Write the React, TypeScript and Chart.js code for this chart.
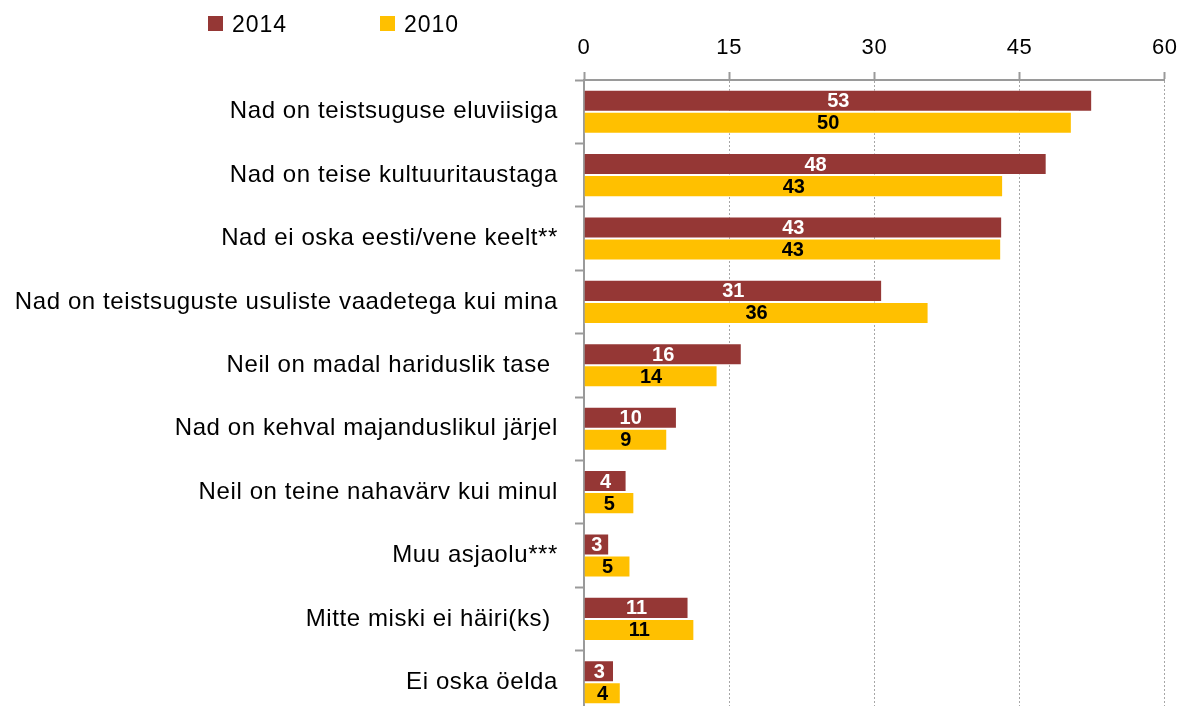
import React, { useEffect, useRef } from "react";
import { Chart, registerables } from "chart.js";

Chart.register(...registerables);

const categories = [
  "Nad on teistsuguse eluviisiga",
  "Nad on teise kultuuritaustaga",
  "Nad ei oska eesti/vene keelt**",
  "Nad on teistsuguste usuliste vaadetega kui mina",
  "Neil on madal hariduslik tase ",
  "Nad on kehval majanduslikul järjel",
  "Neil on teine nahavärv kui minul",
  "Muu asjaolu***",
  "Mitte miski ei häiri(ks) ",
  "Ei oska öelda",
];
const seriesNames = ["2014", "2010"];
const values2014 = [52.5, 47.8, 43.2, 30.8, 16.3, 9.6, 4.4, 2.6, 10.8, 3.1];
const values2010 = [50.4, 43.3, 43.1, 35.6, 13.8, 8.6, 5.2, 4.8, 11.4, 3.8];
const xTicks = [0, 15, 30, 45, 60];

const COLOR_2014 = "#953735";
const COLOR_2010 = "#FFC000";
const AXIS_GRAY = "#9a9a9a";
const FONT = '"Liberation Sans", Arial, sans-serif';

const spacingPlugin = {
  id: "spacing",
  beforeDraw(chart: any) {
    chart.ctx.letterSpacing = "0.6px";
  },
};

const dataLabelPlugin = {
  id: "dataLabels",
  afterDatasetsDraw(chart: any) {
    const ctx = chart.ctx;
    ctx.save();
    ctx.letterSpacing = "0px";
    ctx.font = "bold 20px " + FONT;
    ctx.textAlign = "center";
    ctx.textBaseline = "middle";
    chart.data.datasets.forEach((ds: any, di: number) => {
      const meta = chart.getDatasetMeta(di);
      meta.data.forEach((bar: any, i: number) => {
        const v = ds.data[i] as number;
        const x = (bar.x + bar.base) / 2;
        ctx.fillStyle = di === 0 ? "#ffffff" : "#000000";
        ctx.fillText(String(Math.round(v)), x, bar.y + 1);
      });
    });
    ctx.restore();
  },
};

const legendPlugin = {
  id: "customLegend",
  afterDraw(chart: any) {
    const ctx = chart.ctx;
    const xs = [208, 380];
    ctx.save();
    ctx.letterSpacing = "1px";
    ctx.font = "23px " + FONT;
    ctx.textAlign = "left";
    ctx.textBaseline = "alphabetic";
    chart.data.datasets.forEach((ds: any, i: number) => {
      ctx.fillStyle = ds.backgroundColor;
      ctx.fillRect(xs[i], 16, 15, 15);
      ctx.fillStyle = "#000000";
      ctx.fillText(ds.label, xs[i] + 24, 32);
    });
    ctx.restore();
  },
};

export default function App() {
  const canvasRef = useRef<HTMLCanvasElement | null>(null);

  useEffect(() => {
    const canvas = canvasRef.current;
    if (!canvas) return;
    const chart = new Chart(canvas, {
      type: "bar",
      data: {
        labels: categories,
        datasets: [
          {
            label: seriesNames[0],
            data: values2014,
            backgroundColor: COLOR_2014,
            borderColor: "rgba(255,255,255,0.45)",
            borderWidth: 1,
            categoryPercentage: 0.695,
            barPercentage: 1,
          },
          {
            label: seriesNames[1],
            data: values2010,
            backgroundColor: COLOR_2010,
            borderColor: "rgba(255,255,255,0.45)",
            borderWidth: 1,
            categoryPercentage: 0.695,
            barPercentage: 1,
          },
        ],
      },
      options: {
        indexAxis: "y",
        responsive: false,
        maintainAspectRatio: false,
        animation: false,
        devicePixelRatio: 1,
        layout: { padding: { left: 0, right: 9, top: 0, bottom: 0 } },
        plugins: {
          legend: { display: false },
          tooltip: { enabled: false },
        },
        scales: {
          x: {
            type: "linear",
            position: "top",
            min: 0,
            max: 60,
            afterBuildTicks: (scale: any) => {
              scale.ticks = xTicks.map((v) => ({ value: v }));
            },
            afterFit: (scale: any) => {
              scale.height = 80;
            },
            ticks: {
              font: { family: FONT, size: 22 },
              color: "#000000",
              padding: 11,
              maxRotation: 0,
            },
            grid: {
              color: "#a6a6a6",
              lineWidth: 1,
              drawTicks: true,
              tickLength: 8,
              tickColor: AXIS_GRAY,
              tickWidth: 2,
            },
            border: {
              display: true,
              color: AXIS_GRAY,
              width: 2,
              dash: [2, 2],
            },
          },
          y: {
            type: "category",
            position: "left",
            afterFit: (scale: any) => {
              scale.width = 584;
              scale.paddingTop = 0;
              scale.paddingBottom = 0;
            },
            ticks: {
              font: { family: FONT, size: 24 },
              color: "#000000",
              padding: 17,
            },
            grid: {
              display: true,
              offset: true,
              drawOnChartArea: false,
              drawTicks: true,
              tickLength: 9,
              tickColor: AXIS_GRAY,
              tickWidth: 2,
            },
            border: {
              display: true,
              color: AXIS_GRAY,
              width: 2,
            },
          },
        },
      },
      plugins: [spacingPlugin, dataLabelPlugin, legendPlugin],
    } as any);
    return () => {
      chart.destroy();
    };
  }, []);

  return (
    <div
      style={{
        position: "absolute",
        left: 0,
        top: 0,
        width: 1188,
        height: 706,
        overflow: "hidden",
        background: "#ffffff",
      }}
    >
      <canvas
        ref={canvasRef}
        width={1188}
        height={714}
        style={{ display: "block", width: 1188, height: 714 }}
      />
    </div>
  );
}
